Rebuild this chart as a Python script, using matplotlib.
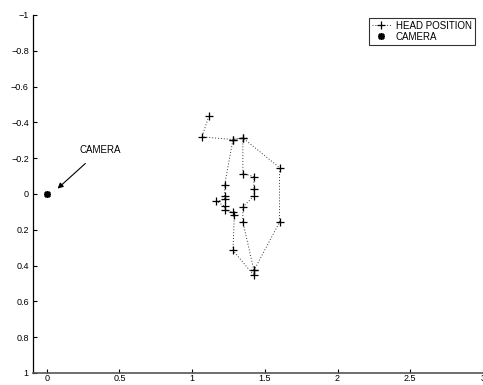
import matplotlib
matplotlib.use("Agg")
import matplotlib.pyplot as plt

plt.rcParams['font.family'] = ['Liberation Sans', 'DejaVu Sans']

# head positions, in the order they were joined
head_x = [1.115, 1.068, 1.281, 1.349, 1.601, 1.601, 1.425, 1.425, 1.281, 1.290, 1.281,
          1.224, 1.224, 1.167, 1.224, 1.224, 1.224, 1.281, 1.349, 1.349, 1.425, 1.425,
          1.425, 1.349, 1.349, 1.425]
head_y = [-0.435, -0.319, -0.304, -0.313, -0.147, 0.158, 0.427, 0.455, 0.315, 0.115, 0.100,
          0.091, 0.069, 0.041, 0.030, 0.010, -0.052, -0.304, -0.313, -0.114, -0.097, -0.025,
          0.011, 0.073, 0.156, 0.427]

cam_x = [0]
cam_y = [0]

xticks = [0, 0.5, 1, 1.5, 2, 2.5, 3]
xtick_labels = ['0', '0.5', '1', '1.5', '2', '2.5', '3']
yticks = [-1, -0.8, -0.6, -0.4, -0.2, 0, 0.2, 0.4, 0.6, 0.8, 1]
ytick_labels = ['\u22121', '\u22120.8', '\u22120.6', '\u22120.4', '\u22120.2', '0',
                '0.2', '0.4', '0.6', '0.8', '1']

fig = plt.figure(figsize=(4.83, 3.85), dpi=100)
ax = fig.add_axes([0.0683, 0.0312, 0.9317, 0.93])

ax.plot(head_x, head_y, linestyle=(0, (1, 2)), color='#333333', linewidth=0.7,
        marker='+', markersize=6, markeredgewidth=0.9, markeredgecolor='black',
        label='HEAD POSITION')
ax.plot(cam_x, cam_y, linestyle='none', color='black', marker=(8, 2, 0),
        markersize=5, markeredgewidth=1.2, label='CAMERA')

ax.annotate('CAMERA', xy=(0.075, -0.03), xytext=(0.225, -0.245),
            fontsize=7, ha='left', va='center',
            arrowprops=dict(arrowstyle='-|>', color='black', lw=0.8,
                            shrinkA=6, shrinkB=0, mutation_scale=8))

ax.set_xlim(-0.094, 3.0)
ax.set_ylim(1, -1)
ax.set_xticks(xticks)
ax.set_xticklabels(xtick_labels)
ax.set_yticks(yticks)
ax.set_yticklabels(ytick_labels)
ax.tick_params(direction='in', length=3, width=0.8, labelsize=6.5)
ax.tick_params(axis='x', pad=1)
ax.tick_params(axis='y', pad=3)

ax.spines['top'].set_visible(False)
ax.spines['right'].set_visible(False)
ax.spines['left'].set_linewidth(0.9)
ax.spines['bottom'].set_color('#555555')
ax.spines['bottom'].set_linewidth(1.2)

leg = ax.legend(loc='upper right', bbox_to_anchor=(0.988, 1.0), fontsize=7,
                frameon=True, fancybox=False, handlelength=2.0,
                borderpad=0.3, labelspacing=0.1, handletextpad=0.5,
                borderaxespad=0.3)
leg.get_frame().set_edgecolor('black')
leg.get_frame().set_linewidth(0.8)

fig.savefig('out.png', dpi=100)
